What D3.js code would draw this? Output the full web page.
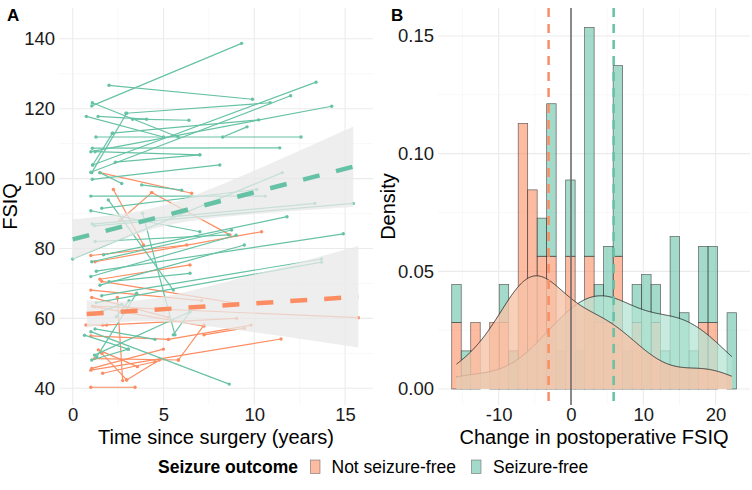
<!DOCTYPE html>
<html>
<head>
<meta charset="utf-8">
<script src="https://cdn.jsdelivr.net/npm/d3@7"></script>
<style>
  body { margin: 0; background: #fff; }
  svg { font-family: "Liberation Sans", Arial, sans-serif; }
</style>
</head>
<body>
<div class="container"></div>
<script>
const groups = ['Not seizure-free', 'Seizure-free'];
const colors = ['#FC8D62', '#66C2A5'];

// panel A, one row per patient: [years, FSIQ, years, FSIQ]
const notFreeSegments = [
  [1.5, 101.7, 6.55, 95.8], [2.24, 96.9, 3.9, 81.0], [4.35, 96.0, 8.66, 83.9],
  [2.6, 88.0, 4.35, 96.0], [1.0, 78.0, 6.28, 81.0], [1.23, 76.2, 10.4, 84.8],
  [1.5, 71.2, 6.46, 75.3], [1.6, 70.6, 9.03, 64.3], [1.0, 68.1, 7.1, 65.1],
  [2.46, 66.0, 2.75, 42.2], [1.1, 63.5, 15.73, 60.2], [1.65, 58.1, 9.03, 60.0],
  [0.73, 58.1, 1.87, 58.1], [1.23, 63.3, 7.23, 57.8], [5.27, 54.0, 9.82, 58.1],
  [7.23, 55.3, 9.45, 57.2], [1.05, 66.0, 5.27, 60.3], [1.0, 55.0, 5.27, 54.0],
  [1.05, 45.7, 4.99, 51.2], [1.0, 45.2, 11.47, 54.1], [1.65, 44.3, 4.53, 47.6],
  [2.97, 42.4, 4.77, 48.1], [1.0, 40.3, 3.43, 40.3], [1.41, 51.0, 3.56, 46.2],
  [5.82, 48.1, 7.23, 58.1], [1.2, 48.5, 5.82, 48.1], [1.6, 50.0, 2.97, 42.4]
];
const freeSegments = [
  [1.05, 120.8, 9.3, 138.7], [2.0, 126.7, 9.9, 122.7], [1.08, 121.7, 5.8, 111.9],
  [0.75, 117.8, 5.0, 111.9], [1.4, 117.8, 4.07, 117.0], [3.3, 117.0, 6.4, 116.7],
  [2.93, 118.7, 10.87, 121.7], [1.28, 111.9, 12.57, 111.9], [1.05, 101.7, 2.97, 118.7],
  [1.1, 103.9, 2.2, 113.0], [1.08, 108.7, 11.4, 108.8], [1.23, 107.7, 7.0, 106.8],
  [2.35, 104.7, 7.0, 106.8], [1.5, 101.7, 2.7, 98.6], [1.08, 99.8, 8.1, 103.9],
  [1.1, 103.9, 13.4, 127.6], [1.0, 101.8, 12.0, 123.7], [1.0, 107.7, 14.26, 120.7],
  [2.18, 113.0, 10.24, 116.8], [8.26, 111.9, 9.6, 114.8], [0.0, 77.0, 11.54, 101.7],
  [1.0, 95.0, 10.6, 95.0], [1.0, 90.8, 7.0, 84.8], [1.07, 87.0, 13.34, 92.9],
  [1.2, 86.5, 15.45, 92.9], [1.6, 91.5, 10.13, 96.9], [3.8, 98.2, 6.0, 96.7],
  [1.23, 82.0, 8.57, 83.9], [1.96, 93.9, 5.54, 68.1], [1.7, 78.2, 11.8, 89.1],
  [1.05, 76.2, 8.75, 85.3], [1.0, 72.0, 9.0, 83.8], [1.3, 73.5, 14.9, 84.2],
  [1.5, 69.5, 9.45, 81.0], [1.6, 66.5, 13.7, 77.0], [1.3, 64.5, 13.7, 76.1],
  [1.0, 56.2, 8.62, 41.2], [0.65, 55.2, 3.06, 51.2], [1.05, 48.1, 3.06, 51.2],
  [1.2, 49.5, 6.46, 61.9], [1.23, 57.0, 4.53, 54.0], [5.54, 55.3, 6.46, 61.9],
  [3.52, 67.2, 1.32, 49.0], [2.0, 70.5, 6.46, 72.9], [3.85, 90.1, 5.63, 55.3],
  [2.4, 60.5, 3.1, 65.0], [1.6, 62.0, 2.7, 64.0]
];

// linear fits: [intercept, slope], years covered, band [a, b, centre]
const fitNotFree = [61.0, 0.33];
const fitFree = [82.6, 1.347];
const fitYearsNotFree = [0.77, 15.73];
const fitYearsFree = [0, 15.45];
const bandNotFree = [8.5, 1.27, 3.13];
const bandFree = [9.0, 1.07, 4.73];

// panel B: 30 bins from the lowest to the highest change
const changeRange = [-15.84, 22.24];
const notFreeCounts = [1, 0, 1, 0, 1, 1, 0, 4, 3, 2, 2, 0, 2, 0, 2, 1, 1, 2, 0, 1, 0, 1, 0, 0, 0, 0, 1, 1, 0, 0];
const freeCounts = [1, 1, 0, 0, 0, 1, 1, 0, 0, 1, 4, 1, 2, 1, 6, 1, 2, 5, 1, 1, 3, 1, 1, 4, 2, 1, 2, 2, 0, 2];
const medianChange = [-3.1, 5.9];

const yearTicks = [0, 5, 10, 15];
const fsiqTicks = [40, 60, 80, 100, 120, 140];
const changeTicks = [-10, 0, 10, 20];
const densityTicks = [0, 0.05, 0.10, 0.15];

const width = 752;
const height = 490;
const panelA = { left: 59, right: 373, top: 8, bottom: 405 };
const panelB = { left: 438, right: 750, top: 8, bottom: 405 };

const svg = d3.select('.container')
  .append('svg')
  .attr('width', width)
  .attr('height', height);

const xA = d3.scaleLinear().domain([0, 15]).range([72.7, 345.1]);
const yA = d3.scaleLinear().domain([40, 140]).range([388.3, 38.8]);
const xB = d3.scaleLinear().domain([0, 20]).range([571, 715.6]);
const yB = d3.scaleLinear().domain([0, 0.15]).range([389, 36]);

function grid(g, panel, x, y, xMajor, xMinor, yMajor, yMinor) {
  const lines = [
    ...xMinor.map(v => ({ x: x(v), minor: true })),
    ...xMajor.map(v => ({ x: x(v), minor: false })),
  ];
  g.selectAll(null).data(lines).enter().append('line')
    .attr('x1', d => d.x).attr('x2', d => d.x)
    .attr('y1', panel.top).attr('y2', panel.bottom)
    .attr('stroke', d => d.minor ? '#f3f3f3' : '#ebebeb')
    .attr('stroke-width', d => d.minor ? 0.6 : 1.1);
  const hlines = [
    ...yMinor.map(v => ({ y: y(v), minor: true })),
    ...yMajor.map(v => ({ y: y(v), minor: false })),
  ];
  g.selectAll(null).data(hlines).enter().append('line')
    .attr('y1', d => d.y).attr('y2', d => d.y)
    .attr('x1', panel.left).attr('x2', panel.right)
    .attr('stroke', d => d.minor ? '#f3f3f3' : '#ebebeb')
    .attr('stroke-width', d => d.minor ? 0.6 : 1.1);
}

function styleAxis(g) {
  g.select('.domain').remove();
  g.selectAll('text')
    .attr('font-size', 18.5)
    .attr('fill', '#1a1a1a')
    .attr('font-family', '"Liberation Sans", Arial, sans-serif');
}

// ---------- panel A ----------
const gA = svg.append('g');
grid(gA, panelA, xA, yA, yearTicks, [2.5, 7.5, 12.5], fsiqTicks, [50, 70, 90, 110, 130]);

const segGroups = [notFreeSegments, freeSegments];
segGroups.forEach((segs, k) => {
  gA.append('g').selectAll('line').data(segs).enter().append('line')
    .attr('x1', d => xA(d[0])).attr('y1', d => yA(d[1]))
    .attr('x2', d => xA(d[2])).attr('y2', d => yA(d[3]))
    .attr('stroke', colors[k])
    .attr('stroke-width', 1.2);
  const pts = segs.flatMap(d => [[d[0], d[1]], [d[2], d[3]]]);
  gA.append('g').selectAll('circle').data(pts).enter().append('circle')
    .attr('cx', d => xA(d[0])).attr('cy', d => yA(d[1]))
    .attr('r', 1.7)
    .attr('fill', colors[k]);
});

const fits = [
  { fit: fitNotFree, years: fitYearsNotFree, band: bandNotFree, color: colors[0] },
  { fit: fitFree, years: fitYearsFree, band: bandFree, color: colors[1] },
];
fits.forEach(f => {
  const line = t => f.fit[0] + f.fit[1] * t;
  const half = t => Math.sqrt(f.band[0] + f.band[1] * (t - f.band[2]) ** 2);
  const ts = d3.range(0, 61).map(i => f.years[0] + (f.years[1] - f.years[0]) * i / 60);
  gA.append('path')
    .attr('d', d3.area()
      .x(t => xA(t))
      .y0(t => yA(line(t) - half(t)))
      .y1(t => yA(line(t) + half(t)))(ts))
    .attr('fill', '#e8e8e8')
    .attr('fill-opacity', 0.75);
});
fits.forEach(f => {
  const line = t => f.fit[0] + f.fit[1] * t;
  gA.append('line')
    .attr('x1', xA(f.years[0])).attr('y1', yA(line(f.years[0])))
    .attr('x2', xA(f.years[1])).attr('y2', yA(line(f.years[1])))
    .attr('stroke', f.color)
    .attr('stroke-width', 4.5)
    .attr('stroke-dasharray', '17,17');
});

gA.append('g')
  .attr('transform', `translate(${panelA.left},0)`)
  .call(d3.axisLeft(yA).tickValues(fsiqTicks).tickSize(0).tickPadding(4))
  .call(styleAxis);
gA.append('g')
  .attr('transform', `translate(0,${panelA.bottom})`)
  .call(d3.axisBottom(xA).tickValues(yearTicks).tickSize(0).tickPadding(3))
  .call(styleAxis);

// ---------- panel B ----------
const gB = svg.append('g');
grid(gB, panelB, xB, yB, changeTicks, [-15, -5, 5, 15], densityTicks, [0.025, 0.075, 0.125]);

const binWidth = (changeRange[1] - changeRange[0]) / 29;
const nNot = d3.sum(notFreeCounts);
const nFree = d3.sum(freeCounts);
const bins = d3.range(30).map(i => ({
  x0: changeRange[0] - binWidth / 2 + i * binWidth,
  x1: changeRange[0] + binWidth / 2 + i * binWidth,
  not: notFreeCounts[i] / (nNot * binWidth),
  free: freeCounts[i] / (nFree * binWidth),
}));

gB.append('g').selectAll('rect').data(bins.filter(b => b.not > 0)).enter().append('rect')
  .attr('x', d => xB(d.x0)).attr('width', d => xB(d.x1) - xB(d.x0))
  .attr('y', d => yB(d.not)).attr('height', d => yB(0) - yB(d.not))
  .attr('fill', colors[0]).attr('fill-opacity', 0.6)
  .attr('stroke', '#333').attr('stroke-opacity', 0.75).attr('stroke-width', 0.7);
gB.append('g').selectAll('rect').data(bins.filter(b => b.free > 0)).enter().append('rect')
  .attr('x', d => xB(d.x0)).attr('width', d => xB(d.x1) - xB(d.x0))
  .attr('y', d => yB(d.not + d.free)).attr('height', d => yB(d.not) - yB(d.not + d.free))
  .attr('fill', colors[1]).attr('fill-opacity', 0.6)
  .attr('stroke', '#333').attr('stroke-opacity', 0.75).attr('stroke-width', 0.7);

// gaussian kernel density, bandwidth as R's nrd0
function kde(values, xs) {
  const sd = d3.deviation(values);
  const iqr = d3.quantile(values, 0.75) - d3.quantile(values, 0.25);
  const bw = 0.9 * Math.min(sd, iqr / 1.34) * Math.pow(values.length, -0.2);
  return xs.map(x => [x, d3.mean(values, v => Math.exp(-0.5 * ((x - v) / bw) ** 2)) / (bw * Math.sqrt(2 * Math.PI))]);
}
const centres = bins.map(b => (b.x0 + b.x1) / 2);
const notValues = centres.flatMap((c, i) => d3.range(notFreeCounts[i]).map(() => c));
const freeValues = centres.flatMap((c, i) => d3.range(freeCounts[i]).map(() => c));
const xs = d3.range(512).map(i => changeRange[0] + (changeRange[1] - changeRange[0]) * i / 511);

const densArea = d3.area().x(d => xB(d[0])).y0(yB(0)).y1(d => yB(d[1]));
const densLine = d3.line().x(d => xB(d[0])).y(d => yB(d[1]));

[[freeValues, '#b4e4d4', 0.75], [notValues, '#f6c3a8', 0.8]].forEach(([vals, fill, op]) => {
  const dens = kde(vals, xs);
  gB.append('path').attr('d', densArea(dens))
    .attr('fill', fill).attr('fill-opacity', op);
  gB.append('path').attr('d', densLine(dens))
    .attr('fill', 'none').attr('stroke', '#1a1a1a').attr('stroke-width', 0.8);
});

gB.append('line')
  .attr('x1', xB(0)).attr('x2', xB(0))
  .attr('y1', panelB.top).attr('y2', panelB.bottom)
  .attr('stroke', '#666').attr('stroke-width', 1.5);
medianChange.forEach((m, k) => {
  gB.append('line')
    .attr('x1', xB(m)).attr('x2', xB(m))
    .attr('y1', panelB.top).attr('y2', panelB.bottom)
    .attr('stroke', colors[k]).attr('stroke-width', 2.5)
    .attr('stroke-dasharray', '9,7');
});

gB.append('g')
  .attr('transform', `translate(${panelB.left},0)`)
  .call(d3.axisLeft(yB).tickValues(densityTicks).tickFormat(d3.format('.2f')).tickSize(0).tickPadding(4))
  .call(styleAxis);
gB.append('g')
  .attr('transform', `translate(0,${panelB.bottom})`)
  .call(d3.axisBottom(xB).tickValues(changeTicks).tickFormat(d => String(d)).tickSize(0).tickPadding(3))
  .call(styleAxis);

// ---------- titles ----------
const titleSize = 20;
svg.append('text').attr('x', (panelA.left + panelA.right) / 2).attr('y', 444)
  .attr('text-anchor', 'middle').attr('font-size', titleSize)
  .text('Time since surgery (years)');
svg.append('text').attr('x', (panelB.left + panelB.right) / 2).attr('y', 444)
  .attr('text-anchor', 'middle').attr('font-size', titleSize)
  .text('Change in postoperative FSIQ');
svg.append('text')
  .attr('transform', `translate(17,${(panelA.top + panelA.bottom) / 2}) rotate(-90)`)
  .attr('text-anchor', 'middle').attr('font-size', titleSize)
  .text('FSIQ');
svg.append('text')
  .attr('transform', `translate(395,${(panelB.top + panelB.bottom) / 2}) rotate(-90)`)
  .attr('text-anchor', 'middle').attr('font-size', titleSize)
  .text('Density');
svg.append('text').attr('x', 7).attr('y', 21)
  .attr('font-size', 17).attr('font-weight', 'bold').text('A');
svg.append('text').attr('x', 391).attr('y', 21)
  .attr('font-size', 17).attr('font-weight', 'bold').text('B');

// ---------- legend ----------
const legend = svg.append('g');
legend.append('text').attr('x', 158).attr('y', 473)
  .attr('font-size', 17.5).attr('font-weight', 'bold').text('Seizure outcome');
const keyX = [310.5, 471.5];
const labelX = [331.5, 493];
groups.forEach((g, k) => {
  legend.append('rect')
    .attr('x', keyX[k]).attr('y', 460).attr('width', 9.5).attr('height', 13.5)
    .attr('fill', colors[k]).attr('fill-opacity', 0.6)
    .attr('stroke', '#555').attr('stroke-opacity', 0.7).attr('stroke-width', 0.7);
  legend.append('text').attr('x', labelX[k]).attr('y', 473)
    .attr('font-size', 17.5).text(g);
});
</script>
</body>
</html>
